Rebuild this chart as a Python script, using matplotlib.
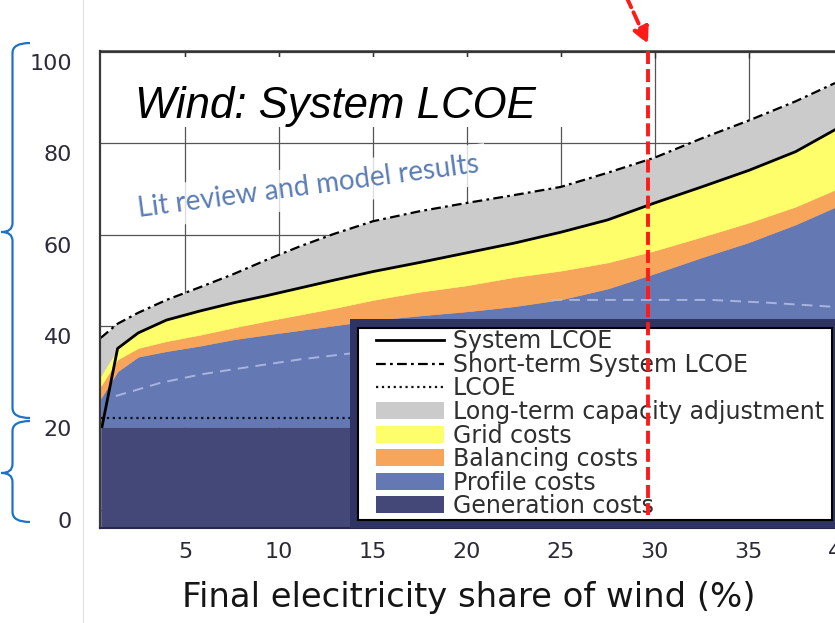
import numpy as np
import matplotlib
matplotlib.use("Agg")
import matplotlib.pyplot as plt
import matplotlib.transforms as mtransforms
from matplotlib.path import Path
from matplotlib.patches import PathPatch, Rectangle, Patch, FancyArrowPatch
from matplotlib.lines import Line2D
from matplotlib.legend_handler import HandlerLine2D, HandlerPatch

# ---------------- data ----------------
share = [0.5, 1.4, 2.5, 4, 5.8, 7.6, 9.3, 11.1, 12.9, 15, 17.5, 20, 22.5, 25,
         27.5, 30, 32.5, 35, 37.5, 39.6]
generation_top = [18.1, 18.1, 18.1, 18.1, 18.1, 18.1, 18.1, 18.1, 18.1, 18.1,
                  18.1, 18.1, 18.1, 18.1, 18.1, 18.1, 18.1, 18.1, 18.1, 18.1]
profile_top = [24.3, 30.2, 33.4, 34.6, 35.8, 37.2, 38.2, 39.2, 40.2, 41.4,
               42.4, 43.3, 44.4, 45.9, 48.3, 51.6, 55.1, 58.4, 62.3, 66.1]
balancing_top = [27.0, 32.8, 35.3, 36.8, 38.2, 39.8, 41.2, 42.6, 44.0, 45.8,
                 47.6, 49.0, 50.8, 52.2, 54.0, 56.6, 59.6, 62.7, 66.2, 69.9]
grid_top = [29.2, 35.2, 38.6, 41.4, 43.4, 45.2, 46.7, 48.4, 50.1, 52.0,
            54.0, 56.1, 58.2, 60.6, 63.3, 67.0, 70.5, 74.1, 78.2, 83.0]
short_term_lcoe = [37.5, 40.6, 43.0, 45.8, 48.6, 51.5, 54.5, 57.5, 60.2, 63.0,
                   65.2, 67.0, 68.7, 70.5, 73.6, 76.9, 81.1, 85.0, 89.2, 93.2]

system_share = [0.57, 1.4, 2.5, 4, 5.8, 7.6, 9.3, 11.1, 12.9, 15, 17.5, 20,
                22.5, 25, 27.5, 30, 32.5, 35, 37.5, 39.6]
system_lcoe = [18.1, 35.2, 38.6, 41.4, 43.4, 45.2, 46.7, 48.4, 50.1, 52.0,
               54.0, 56.1, 58.2, 60.6, 63.3, 67.0, 70.5, 74.1, 78.2, 83.0]

lcoe_share = [0.5, 39.6]
lcoe_value = [20.1, 20.1]

lit_share_low = [1.3, 3.7, 5.8, 7.5, 11.1, 14.0]
lit_profile_low = [24.8, 27.7, 29.5, 30.6, 32.8, 34.2]
lit_share_high = [24.5, 27.1, 33.0, 36.0, 39.5]
lit_profile_high = [45.8, 45.8, 45.8, 45.2, 44.3]

marked_share = 29.65

xticks = [5, 10, 15, 20, 25, 30, 35, 40]
yticks = [0, 20, 40, 60, 80, 100]

labels = ["System LCOE", "Short-term System LCOE", "LCOE",
          "Long-term capacity adjustment", "Grid costs", "Balancing costs",
          "Profile costs", "Generation costs"]

c_gen = "#434878"
c_prof = "#6479b3"
c_bal = "#f8a55c"
c_grid = "#fefe6a"
c_lt = "#cbcbcb"

# ---------------- figure ----------------
W, H = 835, 623
def fx(px):
    return px / W
def fy(py):
    return 1 - py / H

fig = plt.figure(figsize=(W / 100, H / 100), dpi=100)
fig.patch.set_facecolor("white")
ax = fig.add_axes([fx(100), fy(528), (885 - 100) / W, (528 - 51) / H])
ax.set_xlim(0.463, 42.26)
ax.set_ylim(-4.04, 100.2)

ax.set_axisbelow(True)
ax.grid(True, color="#555555", linewidth=0.9)

zero = [-4.04] * len(share)
fills = [(zero, generation_top, c_gen), (generation_top, profile_top, c_prof),
         (profile_top, balancing_top, c_bal), (balancing_top, grid_top, c_grid),
         (grid_top, short_term_lcoe, c_lt)]
for lo, hi, col in fills:
    ax.fill_between(share, lo, hi, facecolor=col, edgecolor=col, linewidth=0.4, zorder=1)

for xs, ys in [(lit_share_low, lit_profile_low), (lit_share_high, lit_profile_high)]:
    ax.plot(xs, ys, color="#b4bfe6", linewidth=1.4, alpha=0.85,
            dashes=(5.5, 3.7), zorder=2)
ax.plot(lcoe_share, lcoe_value, color="#111111", linewidth=1.6, linestyle=":", zorder=2.1)
ax.plot(share, short_term_lcoe, color="black", linewidth=1.6,
        dashes=(4.4, 1.9, 1.25, 1.9), zorder=2.2)
ax.plot(system_share, system_lcoe, color="black", linewidth=2.0, zorder=2.3)

# red marker line
ax.plot([marked_share, marked_share], [100.2, -1.1], color="#ff1a1a", linewidth=2.8,
        dashes=(3.35, 1.3), zorder=8, clip_on=False, solid_capstyle="butt")

# ticks / spines
ax.set_xticks(xticks)
ax.set_yticks(yticks)
ax.tick_params(axis="x", direction="in", top=True, bottom=False, length=5, width=1,
               color="#333333", labelsize=16, labelcolor="#2b2b35", pad=10)
ax.tick_params(axis="y", direction="in", left=False, right=False, length=0,
               labelsize=16, labelcolor="#2b2b3b", pad=20)
for lbl in ax.get_xticklabels() + ax.get_yticklabels():
    lbl.set_family("DejaVu Sans")
ax.spines["right"].set_visible(False)
ax.spines["left"].set_color("#3a3a3a")
ax.spines["left"].set_linewidth(1.6)
ax.spines["top"].set_color("#333333")
ax.spines["top"].set_linewidth(1.8)
ax.spines["bottom"].set_color("#262a48")
ax.spines["bottom"].set_linewidth(1.5)

ax.set_xlabel("Final elecitricity share of wind (%)", fontsize=24.4,
              family="DejaVu Sans", color="#151515")
ax.xaxis.set_label_coords(fx(469), fy(607), transform=fig.transFigure)
ax.xaxis.label.set_va("baseline")
ax.xaxis.label.set_ha("center")

# white box behind the title (hides the grid there, as in the picture)
ax.add_patch(Rectangle((fx(122), fy(127)), (572 - 122) / W, (127 - 57) / H,
                       transform=fig.transFigure, facecolor="white", edgecolor="none",
                       zorder=0.8))

# texts
fig.text(fx(135), fy(118), "Wind: System LCOE", fontsize=31.5, style="italic",
         family="Liberation Sans", ha="left", va="baseline", color="black")
fig.text(fx(309.5), fy(195), "Lit review and model results", fontsize=20,
         family="Lato", color="#5b7db5", rotation=7.5, rotation_mode="anchor",
         ha="center", va="baseline",
         bbox=dict(boxstyle="square,pad=0.28", facecolor="white", edgecolor="none",
                   alpha=0.8))

# legend
SHIFT = 12.0
class ShiftedLine(HandlerLine2D):
    def get_xdata(self, legend, xdescent, ydescent, width, height, fontsize):
        x0 = -xdescent + SHIFT
        x1 = -xdescent + width
        return np.array([x0, x1]), np.array([(x0 + x1) / 2])

def shifted_rect(legend, orig_handle, xdescent, ydescent, width, height, fontsize):
    return Rectangle((-xdescent + SHIFT, -ydescent), width - SHIFT, height)

h_lines = [Line2D([], [], color="black", linewidth=2.0),
           Line2D([], [], color="black", linewidth=1.6, dashes=(4.4, 1.9, 1.25, 1.9)),
           Line2D([], [], color="#111111", linewidth=1.6, linestyle=":")]
h_patches = [Patch(facecolor=c, edgecolor="none") for c in [c_lt, c_grid, c_bal, c_prof, c_gen]]
hmap = {h: ShiftedLine() for h in h_lines}
hmap.update({h: HandlerPatch(patch_func=shifted_rect) for h in h_patches})

leg = ax.legend(h_lines + h_patches, labels, handler_map=hmap,
                loc="upper left", mode="expand",
                bbox_to_anchor=(fx(358), fy(518), (832 - 358) / W, (518 - 328) / H),
                bbox_transform=fig.transFigure, borderaxespad=0,
                prop={"family": "DejaVu Sans", "size": 17},
                labelcolor="#2f2f2f", fancybox=False, framealpha=1,
                edgecolor="black", handlelength=3.6, handleheight=0.72,
                handletextpad=0.36, labelspacing=-0.02, borderpad=0.06)
leg.get_frame().set_linewidth(1.5)
leg.set_zorder(5)

# y tick labels sit a little lower than their gridlines in the picture
off = mtransforms.ScaledTranslation(0, -10 / 100, fig.dpi_scale_trans)
for lbl in ax.get_yticklabels():
    lbl.set_transform(lbl.get_transform() + off)

fig.canvas.draw()
bb = leg.get_window_extent(fig.canvas.get_renderer()).transformed(fig.transFigure.inverted())
ax.add_patch(Rectangle((bb.x0 - 8 / W, bb.y0 - 10 / H), bb.width + 18 / W, bb.height + 19 / H,
                       transform=fig.transFigure, facecolor="#2f3462", edgecolor="none",
                       zorder=4.9))

# faint vertical line of the slide
fig.add_artist(Line2D([fx(83), fx(83)], [0, 1], transform=fig.transFigure,
                      color="#e2e2e2", linewidth=0.8))

# braces
def brace(top, mid, bottom, xr=30, xv=12.5, xl=1.5):
    verts = [(xr, top), (xv, top), (xv, top + 10), (xv, mid - 9), (xv, mid), (xl, mid),
             (xv, mid), (xv, mid + 9), (xv, bottom - 10), (xv, bottom), (xr, bottom)]
    codes = [Path.MOVETO, Path.CURVE3, Path.CURVE3, Path.LINETO, Path.CURVE3, Path.CURVE3,
             Path.CURVE3, Path.CURVE3, Path.LINETO, Path.CURVE3, Path.CURVE3]
    verts = [(fx(x), fy(y)) for x, y in verts]
    fig.add_artist(PathPatch(Path(verts, codes), transform=fig.transFigure,
                             facecolor="none", edgecolor="#1f72c6", linewidth=1.6))

brace(43, 232, 418)
brace(421, 473, 522)

# red arrow at the top
fig.add_artist(FancyArrowPatch((fx(626), fy(-4)), (fx(648), fy(44)),
                               transform=fig.transFigure, arrowstyle="-|>",
                               mutation_scale=24, color="#ff1a1a", linewidth=2.8,
                               linestyle=(0, (3.2, 1.4)), shrinkA=0, shrinkB=0))

fig.savefig("out.png", dpi=100)
